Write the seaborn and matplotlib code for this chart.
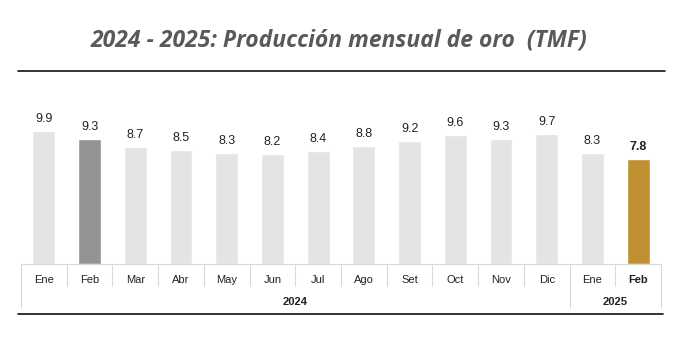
import pandas as pd
import numpy as np
import matplotlib.pyplot as plt
import seaborn as sns
from matplotlib.lines import Line2D

# data
meses = ["Ene", "Feb", "Mar", "Abr", "May", "Jun", "Jul", "Ago", "Set", "Oct", "Nov", "Dic", "Ene", "Feb"]
anios = ["2024"] * 12 + ["2025"] * 2
produccion = [9.9, 9.3, 8.7, 8.5, 8.3, 8.2, 8.4, 8.8, 9.2, 9.6, 9.3, 9.7, 8.3, 7.8]

df = pd.DataFrame({"mes": meses, "anio": anios, "tmf": produccion})
df["pos"] = range(len(df))

gris = "#E4E4E5"
colores = [gris] * len(df)
colores[1] = "#939396"
colores[-1] = "#BF9130"

sns.set_style("white")
plt.rcParams["font.family"] = ["Liberation Sans", "DejaVu Sans"]

fig = plt.figure(figsize=(6.78, 3.54), dpi=100)
ax = fig.add_axes([0.031, 0.2542, 0.944, 0.4633])

sns.barplot(data=df, x="pos", y="tmf", hue="pos", palette=colores, legend=False,
            width=0.5, saturation=1, ax=ax)
ax.set_ylim(0, 12.24)
ax.set_xlim(-0.5, len(df) - 0.5)
sns.despine(ax=ax, left=True, bottom=False)
ax.spines["bottom"].set_color("#D9D9D9")
ax.spines["bottom"].set_linewidth(0.8)
ax.set_yticks([])
ax.set_xticks([])
ax.set_xlabel("")
ax.set_ylabel("")

# value labels
for i, v in enumerate(produccion):
    last = i == len(produccion) - 1
    ax.text(i, v + 0.45, f"{v:.1f}", ha="center", va="bottom", fontsize=9,
            fontweight="bold" if last else "normal", color="#222222")

# month row + separators
tr = ax.get_xaxis_transform()
for i, m in enumerate(meses):
    last = i == len(meses) - 1
    ax.text(i, -0.098, m, transform=tr, ha="center", va="center", fontsize=8,
            fontweight="bold" if last else "normal", color="#222222")
for i in range(len(meses) + 1):
    borde = i in (0, 12, len(meses))
    ax.plot([i - 0.5, i - 0.5], [0, -0.268 if borde else -0.134], transform=tr,
            color="#D9D9D9", lw=0.8, clip_on=False)

# year row
for anio in ["2024", "2025"]:
    idx = df.index[df["anio"] == anio]
    centro = (idx.min() + idx.max()) / 2
    if anio == "2024":
        centro = 5.5
    ax.text(centro, -0.232, anio, transform=tr, ha="center", va="center",
            fontsize=8, fontweight="bold", color="#222222")

# title and rules
fig.text(0.5, 0.887, "2024 - 2025: Producción mensual de oro  (TMF)", ha="center", va="center",
         fontsize=16.5, fontstyle="italic", fontweight="bold", color="#595959",
         family=["Open Sans", "DejaVu Sans"])
fig.add_artist(Line2D([18 / 678, 665 / 678], [0.7994, 0.7994], color="#111111", lw=1.2))
fig.add_artist(Line2D([18 / 678, 663 / 678], [0.113, 0.113], color="#111111", lw=1.2))

fig.savefig("out.png", dpi=100)
